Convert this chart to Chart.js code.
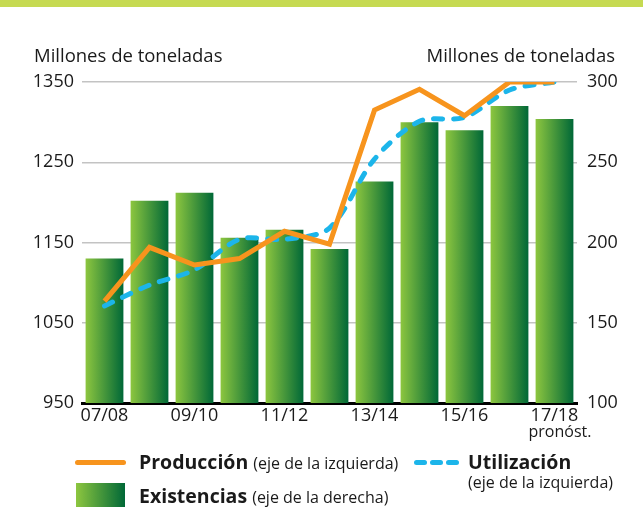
<!DOCTYPE html>
<html>
<head>
<meta charset="utf-8">
<script src="https://cdn.jsdelivr.net/npm/chart.js@4.4.0/dist/chart.umd.min.js"></script>
<style>
  body { margin: 0; background: #fff; font-family: "Open Sans", sans-serif; color: #1a1a1a; }
  #wrap { position: relative; width: 643px; height: 528px; overflow: hidden; }
  #band { position: absolute; left: 0; top: 0; width: 643px; height: 7px; background: #c6da52; }
  canvas { position: absolute; left: 0; top: 0; }
  .t { position: absolute; white-space: nowrap; line-height: 1; }
  .s18 { font-size: 18.5px; }
  .s16 { font-size: 16px; }
  .b { font-size: 19.5px; font-weight: 700; }
  .b span { font-size: 16px; font-weight: 400; }
  .dash { position: absolute; top: 460px; width: 12.5px; height: 5px; border-radius: 3px; background: #1cb5ea; }
</style>
</head>
<body>
<div id="wrap">
  <div id="band"></div>
  <canvas id="chart" width="643" height="528"></canvas>
  <div class="t s18" style="left:34px;top:46px">Millones de toneladas</div>
  <div class="t s18" style="right:28px;top:46px">Millones de toneladas</div>
  <div class="t s16" style="left:560px;top:423px;transform:translateX(-50%)">pronóst.</div>

  <div style="position:absolute;left:75px;top:460px;width:51px;height:5px;border-radius:3px;background:#f7941d"></div>
  <div class="t b" style="left:139px;top:452px">Producción <span>(eje de la izquierda)</span></div>
  <div class="dash" style="left:414px"></div>
  <div class="dash" style="left:430px"></div>
  <div class="dash" style="left:446px"></div>
  <div class="t b" style="left:468px;top:452px">Utilización</div>
  <div class="t s16" style="left:468px;top:474px">(eje de la izquierda)</div>
  <div style="position:absolute;left:76px;top:483px;width:49px;height:24px;background:linear-gradient(to right,#8dc63f,#006837)"></div>
  <div class="t b" style="left:139px;top:486px">Existencias <span>(eje de la derecha)</span></div>
</div>
<script>
// seasons on the x axis
const categories = ['07/08', '08/09', '09/10', '10/11', '11/12', '12/13', '13/14', '14/15', '15/16', '16/17', '17/18'];
// stocks, right axis (millones de toneladas)
const existencias = [190, 226, 231, 203, 208, 196, 238, 275, 270, 285, 277];
// production and utilization, left axis
const produccion = [1077, 1144, 1122, 1130, 1164, 1148, 1315, 1341, 1308, 1350, 1350];
const utilizacion = [1071, 1097, 1116, 1154, 1154, 1168, 1254, 1301, 1306, 1340, 1350];

const leftTicks = [950, 1050, 1150, 1250, 1350];
const rightTicks = [100, 150, 200, 250, 300];

const BAR_PCT = 0.84;

// each bar gets its own left-to-right gradient
function barFill(c) {
  const chart = c.chart;
  const x = chart.scales.x;
  if (!x || c.dataIndex === undefined || !x.width) return '#4a9a3c';
  const cx = x.getPixelForValue(c.dataIndex);
  const half = (x.width / categories.length) * BAR_PCT / 2;
  const g = chart.ctx.createLinearGradient(cx - half, 0, cx + half, 0);
  g.addColorStop(0, '#8dc63f');
  g.addColorStop(1, '#006837');
  return g;
}

const tickFont = { family: '"Open Sans", sans-serif', size: 18 };

new Chart(document.getElementById('chart'), {
  data: {
    labels: categories,
    datasets: [
      {
        type: 'line', label: 'Producción', data: produccion, yAxisID: 'y', order: 1,
        borderColor: '#f7941d', borderWidth: 5, pointRadius: 0, tension: 0,
        borderJoinStyle: 'miter', borderCapStyle: 'butt'
      },
      {
        type: 'line', label: 'Utilización', data: utilizacion, yAxisID: 'y', order: 2,
        borderColor: '#1cb5ea', borderWidth: 5, pointRadius: 0, tension: 0.3,
        borderDash: [9, 11], borderCapStyle: 'round'
      },
      {
        type: 'bar', label: 'Existencias', data: existencias, yAxisID: 'y2', order: 3,
        backgroundColor: barFill, borderWidth: 0,
        barPercentage: BAR_PCT, categoryPercentage: 1
      }
    ]
  },
  options: {
    responsive: false,
    animation: false,
    layout: { padding: { top: 82, left: 0, right: 0, bottom: 0 } },
    plugins: { legend: { display: false }, tooltip: { enabled: false } },
    scales: {
      x: {
        z: 1,
        grid: { display: true, color: 'transparent', drawTicks: false },
        border: { display: true, color: '#000', width: 3 },
        ticks: {
          autoSkip: false, maxRotation: 0, padding: 2, color: '#1a1a1a', font: tickFont,
          callback: (v, i) => (i % 2 === 0 ? categories[i] : '')
        },
        afterFit: s => { s.height = 125; }
      },
      y: {
        position: 'left', min: 950, max: 1350,
        afterBuildTicks: s => { s.ticks = leftTicks.map(v => ({ value: v })); },
        grid: { color: '#c3c3c3', lineWidth: 1.5, drawTicks: false },
        border: { display: false },
        ticks: { padding: 8, color: '#1a1a1a', font: tickFont, callback: v => String(v) },
        afterFit: s => { s.width = 82; }
      },
      y2: {
        position: 'right', min: 100, max: 300,
        afterBuildTicks: s => { s.ticks = rightTicks.map(v => ({ value: v })); },
        grid: { display: false, drawTicks: false },
        border: { display: false },
        ticks: { padding: 10, color: '#1a1a1a', font: tickFont, callback: v => String(v) },
        afterFit: s => { s.width = 66; }
      }
    }
  }
});
</script>
</body>
</html>
